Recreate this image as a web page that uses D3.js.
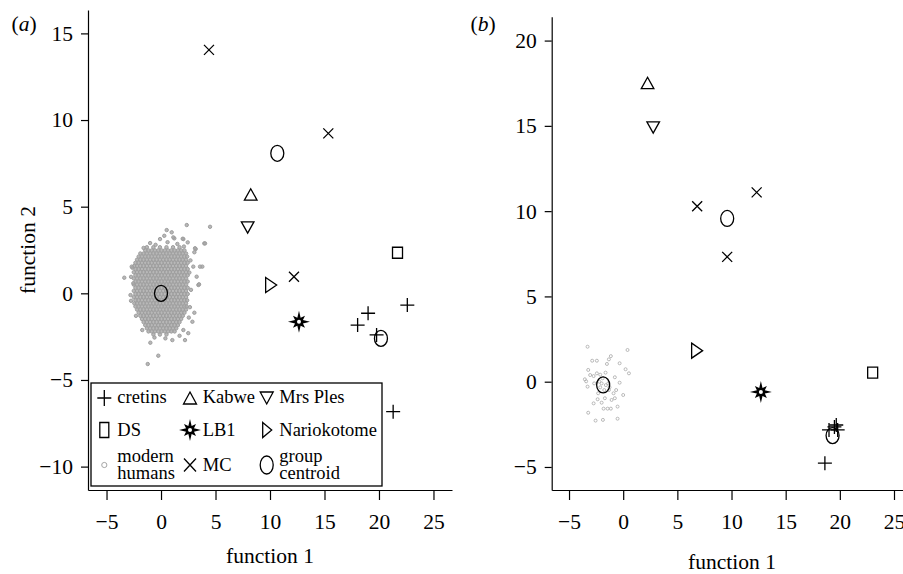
<!DOCTYPE html>
<meta charset="utf-8">
<style>
body { margin: 0; background: #fff; }
text { font-family: "Liberation Serif", "Times New Roman", serif; fill: #000; }
.axis path, .axis line { stroke: #000; stroke-width: 1.2px; }
.axis text { font-size: 21.5px; }
.lg { font-size: 18.5px; }
</style>
<body>
<script src="https://d3js.org/d3.v7.min.js"></script>
<script>

// ---------- data, panel (a) ----------
var cretinsA  = [[22.6,-0.68],[19.0,-1.15],[18.04,-1.83],[19.78,-2.4],[21.3,-6.83]];
var mcA       = [[4.4,14.05],[15.35,9.23],[12.2,0.96]];
var kabweA    = [[8.23,5.67]];
var mrsPlesA  = [[7.95,3.84]];
var dsA       = [[21.7,2.34]];
var lb1A      = [[12.66,-1.64]];
var narioA    = [[10.06,0.48]];
var centroidA = [[0,0],[10.67,8.08],[20.18,-2.6]];

// modern humans (a): dense core read row by row, [y, x, x, ...]
var humanRowsA = [
  [2.66, -1.3,-0.7,-0.1,0.5,1.1,1.7],
  [2.48, -1.45,-1.15,-0.85,-0.55,-0.25,0.05,0.35,0.65,0.95,1.25,1.55,1.85,2.15],
  [2.30, -1.9,-1.6,-1.3,-1.0,-0.7,-0.4,-0.1,0.2,0.5,0.8,1.1,1.4,1.7,2.0,2.3],
  [2.12, -2.05,-1.75,-1.45,-1.15,-0.85,-0.55,-0.25,0.05,0.35,0.65,0.95,1.25,1.55,1.85,2.15,2.4],
  [1.94, -2.2,-1.9,-1.6,-1.3,-1.0,-0.7,-0.4,-0.1,0.2,0.5,0.8,1.1,1.4,1.7,2.0,2.3],
  [1.76, -2.35,-2.05,-1.75,-1.45,-1.15,-0.85,-0.55,-0.25,0.05,0.35,0.65,0.95,1.25,1.55,1.85,2.15,2.45],
  [1.58, -2.45,-2.2,-1.9,-1.6,-1.3,-1.0,-0.7,-0.4,-0.1,0.2,0.5,0.8,1.1,1.4,1.7,2.0,2.3],
  [1.40, -2.35,-2.05,-1.75,-1.45,-1.15,-0.85,-0.55,-0.25,0.05,0.35,0.65,0.95,1.25,1.55,1.85,2.15,2.45],
  [1.22, -2.5,-2.2,-1.9,-1.6,-1.3,-1.0,-0.7,-0.4,-0.1,0.2,0.5,0.8,1.1,1.4,1.7,2.0,2.3],
  [1.04, -2.35,-2.05,-1.75,-1.45,-1.15,-0.85,-0.55,-0.25,0.05,0.35,0.65,0.95,1.25,1.55,1.85,2.15,2.45],
  [0.86, -2.5,-2.2,-1.9,-1.6,-1.3,-1.0,-0.7,-0.4,-0.1,0.2,0.5,0.8,1.1,1.4,1.7,2.0,2.3],
  [0.68, -2.35,-2.05,-1.75,-1.45,-1.15,-0.85,-0.55,-0.25,0.05,0.35,0.65,0.95,1.25,1.55,1.85,2.15,2.45],
  [0.50, -2.5,-2.2,-1.9,-1.6,-1.3,-1.0,-0.7,-0.4,-0.1,0.2,0.5,0.8,1.1,1.4,1.7,2.0,2.3],
  [0.32, -2.35,-2.05,-1.75,-1.45,-1.15,-0.85,-0.55,-0.25,0.05,0.35,0.65,0.95,1.25,1.55,1.85,2.15,2.45],
  [0.14, -2.5,-2.2,-1.9,-1.6,-1.3,-1.0,-0.7,-0.4,-0.1,0.2,0.5,0.8,1.1,1.4,1.7,2.0,2.3],
  [-0.04, -2.35,-2.05,-1.75,-1.45,-1.15,-0.85,-0.55,-0.25,0.05,0.35,0.65,0.95,1.25,1.55,1.85,2.15,2.45],
  [-0.22, -2.5,-2.2,-1.9,-1.6,-1.3,-1.0,-0.7,-0.4,-0.1,0.2,0.5,0.8,1.1,1.4,1.7,2.0,2.3],
  [-0.40, -2.35,-2.05,-1.75,-1.45,-1.15,-0.85,-0.55,-0.25,0.05,0.35,0.65,0.95,1.25,1.55,1.85,2.15,2.4],
  [-0.58, -2.45,-2.2,-1.9,-1.6,-1.3,-1.0,-0.7,-0.4,-0.1,0.2,0.5,0.8,1.1,1.4,1.7,2.0,2.3],
  [-0.76, -2.35,-2.05,-1.75,-1.45,-1.15,-0.85,-0.55,-0.25,0.05,0.35,0.65,0.95,1.25,1.55,1.85,2.15,2.35],
  [-0.94, -2.2,-1.9,-1.6,-1.3,-1.0,-0.7,-0.4,-0.1,0.2,0.5,0.8,1.1,1.4,1.7,2.0,2.3],
  [-1.12, -2.05,-1.75,-1.45,-1.15,-0.85,-0.55,-0.25,0.05,0.35,0.65,0.95,1.25,1.55,1.85,2.15],
  [-1.30, -1.9,-1.6,-1.3,-1.0,-0.7,-0.4,-0.1,0.2,0.5,0.8,1.1,1.4,1.7,2.0],
  [-1.48, -1.75,-1.45,-1.15,-0.85,-0.55,-0.25,0.05,0.35,0.65,0.95,1.25,1.55,1.85],
  [-1.66, -1.6,-1.3,-1.0,-0.7,-0.4,-0.1,0.2,0.5,0.8,1.1,1.4,1.7],
  [-1.84, -1.45,-1.15,-0.85,-0.55,-0.25,0.05,0.35,0.65,0.95,1.25,1.55],
  [-2.02, -1.3,-1.0,-0.7,-0.4,-0.1,0.2,0.5,0.8,1.1,1.4],
  [-2.20, -1.15,-0.85,-0.55,-0.25,0.05,0.35,0.65,0.95,1.25],
  [-2.38, -0.7,-0.1,0.5]
];
// modern humans (a): scattered points round the core
var humanOutA = [[2.36,3.94],[4.5,3.84],[0.52,3.65],[0.98,3.52],[-0.09,3.13],[0.3,3.32],[1.22,3.17],
  [2.05,3.13],[2.45,2.94],[3.97,2.88],[3.18,2.56],[3.06,2.37],[3.79,1.54],[2.96,1.54],[3.27,0.96],
  [3.43,0.48],[-2.63,1.48],[-3.37,0.9],[-2.54,0.58],[-2.75,-0.43],[3.06,-1.12],[2.88,-1.64],
  [-1.72,-2.12],[2.2,-2.7],[1.04,-2.7],[-0.98,-2.85],[-0.25,-3.6],[-1.22,-4.08],[2.5,-2.3],
  [2.05,-2.12],[1.13,3.23],[1.99,3.15],[4.04,2.88],[3.12,2.6],[-2.69,1.54],[3.58,1.54],[3.49,0.52],
  [-1.0,2.9],[0.6,2.95],[-0.5,2.8],[1.5,2.85],[2.1,2.7],[-1.6,2.62],[2.7,1.9],[2.75,0.2],[2.65,-0.8],
  [-2.8,-0.1],[-2.75,0.95],[-2.3,-1.3],[1.7,-2.45],[0.4,-2.6],[-0.6,-2.55],[2.6,1.2],[2.55,-1.4]];

// ---------- data, panel (b) ----------
var cretinsB  = [[18.62,-4.78],[19.0,-2.83],[19.8,-2.83],[19.67,-2.54],[19.5,-2.65]];
var mcB       = [[6.83,10.29],[12.32,11.1],[9.6,7.32]];
var kabweB    = [[2.25,17.48]];
var mrsPlesB  = [[2.77,14.94]];
var dsB       = [[23.03,0.53]];
var lb1B      = [[12.71,-0.6]];
var narioB    = [[6.78,1.82]];
var centroidB = [[-1.85,-0.19],[9.6,9.57],[19.33,-3.16]];
var humansB = [[-3.29,2.05],[0.40,1.86],[-2.86,1.23],[-2.43,1.23],[-1.32,1.31],[-1.14,1.50],[-1.50,1.04],
  [-0.33,1.08],[-3.23,0.69],[0.22,0.73],[-3.05,0.39],[0.53,0.49],[-3.54,0.14],[-3.42,0.02],[-2.73,0.33],
  [-2.43,0.49],[-2.12,0.41],[-1.63,0.53],[-0.77,0.26],[-3.29,-0.29],[-2.68,-0.10],[-0.33,-0.06],
  [-0.65,-0.49],[-0.89,-0.68],[-2.31,-0.68],[-1.32,-0.49],[-1.75,-0.49],[-1.69,-0.97],[-1.99,-1.23],
  [-1.07,-1.07],[-0.77,-0.97],[-2.36,-1.03],[-1.81,-1.58],[-1.44,-1.58],[-1.14,-1.58],[-0.52,-1.46],
  [-2.73,-1.27],[-3.23,-1.82],[-0.52,-2.17],[-2.55,-2.28],[-1.87,-2.24],[-1.99,-0.10],[-1.38,-0.10],
  [-1.26,-0.33],[-2.12,-0.33],[0.0,-0.78],[-1.9,0.2],[-1.6,-0.2],[-2.2,0.0]];

var yTicksA = [-10, -5, 0, 5, 10, 15];
var yTicksB = [-5, 0, 5, 10, 15, 20];
var xTicks  = [-5, 0, 5, 10, 15, 20, 25];

var legendItems = [
  {shape: "plus",   label: ["cretins"]},     {shape: "triUp", label: ["Kabwe"]}, {shape: "triDown",  label: ["Mrs Ples"]},
  {shape: "square", label: ["DS"]},          {shape: "star",  label: ["LB1"]},   {shape: "triRight", label: ["Nariokotome"]},
  {shape: "human",  label: ["modern", "humans"]}, {shape: "cross", label: ["MC"]}, {shape: "ring", label: ["group", "centroid"]}
];

// ---------- setup ----------
var svg = d3.select("body").append("svg")
    .attr("width", 903)
    .attr("height", 574);

var xA = d3.scaleLinear().domain([-6.7, 26.7]).range([88, 452]);
var yA = d3.scaleLinear().domain([-11.35, 16.35]).range([490, 10]);
var xB = d3.scaleLinear().domain([-6.6, 26.2]).range([551.7, 907]);
var yB = d3.scaleLinear().domain([-6.35, 21.4]).range([490, 16.7]);

function starPath(rMain, rDiag, rIn) {
  var p = [];
  for (var i = 0; i < 16; i++) {
    var a = i * Math.PI / 8 - Math.PI / 2;
    var r = i % 2 ? rIn : (i % 4 == 0 ? rMain : rDiag);
    p.push([(r * Math.cos(a)).toFixed(2), (r * Math.sin(a)).toFixed(2)]);
  }
  return "M" + p.join("L") + "Z";
}

var shapes = {
  plus:     "M-7,0H7M0,-7V7",
  cross:    "M-5,-5L5,5M-5,5L5,-5",
  triUp:    "M0,-6.3L6.3,5L-6.3,5Z",
  triDown:  "M0,6.3L6.3,-5L-6.3,-5Z",
  triRight: "M-5,-7.5L6,0L-5,7.5Z",
  square:   "M-5,-5.5H5V5.5H-5Z",
  star:     starPath(11, 8.5, 4.3)
};
var legendShapes = {
  plus:     "M-7,0H7M0,-8V8",
  cross:    "M-6,-6.5L6,6.5M-6,6.5L6,-6.5",
  triUp:    "M0,-6L6.5,6L-6.5,6Z",
  triDown:  "M0,6L6.5,-6L-6.5,-6Z",
  triRight: "M-4,-7.5L5,0L-4,7.5Z",
  square:   "M-4.5,-7.5H4.5V7.5H-4.5Z",
  star:     starPath(11, 8.5, 4.3)
};

function drawMarks(pts, x, y, shape) {
  var g = svg.append("g");
  if (shape == "ring") {
    g.selectAll("ellipse").data(pts).enter().append("ellipse")
      .attr("cx", function(d) { return x(d[0]); })
      .attr("cy", function(d) { return y(d[1]); })
      .attr("rx", 6.5).attr("ry", 8)
      .attr("fill", "none").attr("stroke", "#000").attr("stroke-width", 1.3);
    return;
  }
  var sel = g.selectAll("path").data(pts).enter().append("path")
    .attr("transform", function(d) { return "translate(" + x(d[0]) + "," + y(d[1]) + ")"; })
    .attr("d", shapes[shape]);
  if (shape == "star") {
    sel.attr("fill", "#000");
    g.selectAll("circle").data(pts).enter().append("circle")
      .attr("cx", function(d) { return x(d[0]); })
      .attr("cy", function(d) { return y(d[1]); })
      .attr("r", 2).attr("fill", "#fff");
  } else {
    sel.attr("fill", "none").attr("stroke", "#000").attr("stroke-width", 1.3);
  }
}

function drawAxes(x, y, yTicks) {
  svg.append("g").attr("class", "axis")
      .attr("transform", "translate(" + x.range()[0] + ",0)")
      .call(d3.axisLeft(y).tickValues(yTicks).tickSize(7).tickSizeOuter(0).tickPadding(8));
  svg.append("g").attr("class", "axis")
      .attr("transform", "translate(0," + y.range()[0] + ")")
      .call(d3.axisBottom(x).tickValues(xTicks).tickSize(10).tickSizeOuter(0).tickPadding(14));
}

// ---------- panel (a) ----------
var humansA = [];
humanRowsA.forEach(function(row) {
  for (var i = 1; i < row.length; i++) humansA.push([row[i], row[0]]);
});
humansA = humansA.concat(humanOutA);

svg.append("g").selectAll("circle").data(humansA).enter().append("circle")
    .attr("cx", function(d) { return xA(d[0]); })
    .attr("cy", function(d) { return yA(d[1]); })
    .attr("r", 1.7)
    .attr("fill", "#a6a6a6").attr("fill-opacity", 0.8)
    .attr("stroke", "#9e9e9e").attr("stroke-width", 1);

drawMarks(cretinsA, xA, yA, "plus");
drawMarks(mcA, xA, yA, "cross");
drawMarks(kabweA, xA, yA, "triUp");
drawMarks(mrsPlesA, xA, yA, "triDown");
drawMarks(dsA, xA, yA, "square");
drawMarks(narioA, xA, yA, "triRight");
drawMarks(lb1A, xA, yA, "star");
drawMarks(centroidA, xA, yA, "ring");
drawAxes(xA, yA, yTicksA);

// ---------- panel (b) ----------
svg.append("g").selectAll("circle").data(humansB).enter().append("circle")
    .attr("cx", function(d) { return xB(d[0]); })
    .attr("cy", function(d) { return yB(d[1]); })
    .attr("r", 1.5)
    .attr("fill", "none")
    .attr("stroke", "#a8a8a8").attr("stroke-width", 0.8);

drawMarks(cretinsB, xB, yB, "plus");
drawMarks(mcB, xB, yB, "cross");
drawMarks(kabweB, xB, yB, "triUp");
drawMarks(mrsPlesB, xB, yB, "triDown");
drawMarks(dsB, xB, yB, "square");
drawMarks(narioB, xB, yB, "triRight");
drawMarks(lb1B, xB, yB, "star");
drawMarks(centroidB, xB, yB, "ring");
drawAxes(xB, yB, yTicksB);

// ---------- titles ----------
svg.append("text").attr("x", 270).attr("y", 563).attr("text-anchor", "middle")
    .style("font-size", "21.5px").text("function 1");
svg.append("text").attr("x", 732).attr("y", 569).attr("text-anchor", "middle")
    .style("font-size", "21.5px").text("function 1");
svg.append("text").attr("transform", "translate(35,250) rotate(-90)").attr("text-anchor", "middle")
    .style("font-size", "21.5px").text("function 2");

[["a", 11.5], ["b", 470.5]].forEach(function(p) {
  var t = svg.append("text").attr("x", p[1]).attr("y", 31).style("font-size", "21.5px");
  t.append("tspan").text("(");
  t.append("tspan").style("font-style", "italic").text(p[0]);
  t.append("tspan").text(")");
});

// ---------- legend ----------
var lg = svg.append("g");
lg.append("rect").attr("x", 91).attr("y", 383).attr("width", 291).attr("height", 103)
    .attr("fill", "#fff").attr("stroke", "#000").attr("stroke-width", 1.3);

var colSym = [104.3, 190, 266.7], colTxt = [117.3, 202.7, 279.3];
var rowY = [398, 430, 465];
var rowBase = [403, 435.7, 470.7];

legendItems.forEach(function(it, i) {
  var c = i % 3, r = Math.floor(i / 3);
  var sx = colSym[c], sy = rowY[r];
  if (it.shape == "human") {
    lg.append("circle").attr("cx", sx).attr("cy", sy).attr("r", 2.6)
      .attr("fill", "none").attr("stroke", "#9c9c9c").attr("stroke-width", 0.9);
  } else if (it.shape == "ring") {
    lg.append("ellipse").attr("cx", sx).attr("cy", sy).attr("rx", 6.5).attr("ry", 9)
      .attr("fill", "none").attr("stroke", "#000").attr("stroke-width", 1.3);
  } else {
    var p = lg.append("path").attr("transform", "translate(" + sx + "," + sy + ")")
      .attr("d", legendShapes[it.shape]);
    if (it.shape == "star") {
      p.attr("fill", "#000");
      lg.append("circle").attr("cx", sx).attr("cy", sy).attr("r", 2).attr("fill", "#fff");
    } else {
      p.attr("fill", "none").attr("stroke", "#000").attr("stroke-width", 1.3);
    }
  }
  if (it.label.length == 1) {
    lg.append("text").attr("class", "lg").attr("x", colTxt[c]).attr("y", rowBase[r]).text(it.label[0]);
  } else {
    lg.append("text").attr("class", "lg").attr("x", colTxt[c]).attr("y", 462).text(it.label[0]);
    lg.append("text").attr("class", "lg").attr("x", colTxt[c]).attr("y", 478.5).text(it.label[1]);
  }
});

</script>
</body>
